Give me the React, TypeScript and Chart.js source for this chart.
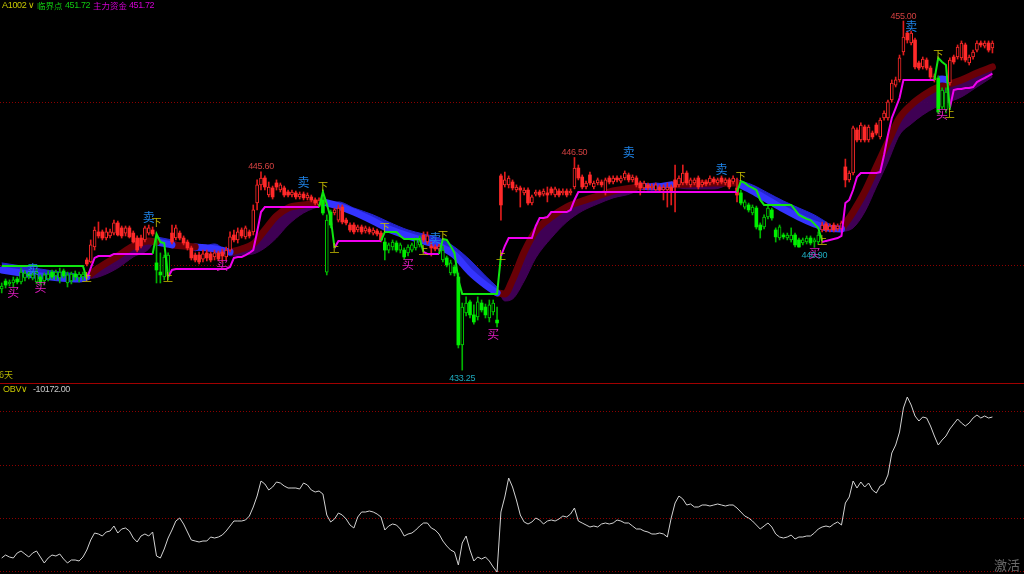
import React, { useEffect, useRef } from 'react';
import { Chart, registerables } from 'chart.js';

Chart.register(...registerables);

// ---------- candles (257 bars) ----------
const opens = [
  438.31, 438.80, 438.62, 438.68, 438.93, 438.74, 438.99, 439.24, 438.99, 438.74,
  439.05, 438.80, 438.93, 439.36, 439.12, 438.99, 439.43, 438.68, 438.80, 439.24,
  438.99, 439.05, 440.11, 439.99, 440.92, 441.86, 441.86, 441.48, 441.61, 441.79,
  442.42, 442.11, 441.79, 442.11, 441.79, 441.48, 441.48, 441.36, 441.79, 441.98,
  439.93, 439.36, 439.05, 439.12, 441.79, 441.48, 441.79, 441.48, 441.23, 440.86,
  440.42, 440.42, 440.17, 440.55, 440.49, 440.30, 440.55, 440.61, 440.30, 440.73,
  441.67, 441.36, 441.98, 441.55, 441.86, 441.86, 443.66, 444.79, 445.22, 444.16,
  444.60, 444.91, 444.47, 444.60, 444.35, 444.16, 444.29, 444.04, 444.22, 443.98,
  444.04, 443.85, 443.54, 443.85, 439.36, 443.10, 443.04, 442.60, 443.41, 442.60,
  442.29, 442.29, 441.98, 442.17, 441.92, 442.04, 441.79, 441.92, 441.79, 441.23,
  440.73, 440.92, 441.17, 440.73, 440.73, 440.55, 440.73, 440.86, 441.05, 441.67,
  441.23, 440.98, 440.92, 440.80, 440.11, 440.24, 439.30, 439.68, 439.05, 434.82,
  436.81, 437.50, 436.69, 436.56, 437.43, 437.18, 436.50, 436.87, 436.37, 445.35,
  444.79, 444.79, 444.97, 444.47, 444.60, 444.29, 444.47, 443.66, 444.22, 444.35,
  444.22, 444.29, 444.54, 444.16, 444.41, 444.29, 444.41, 444.29, 444.66, 445.84,
  445.28, 444.66, 445.41, 444.66, 444.91, 444.97, 444.29, 445.22, 444.97, 445.22,
  445.03, 445.22, 445.41, 445.10, 445.22, 444.91, 444.60, 444.79, 444.60, 444.47,
  444.66, 444.47, 444.47, 444.66, 445.10, 444.79, 444.91, 445.53, 444.79, 444.91,
  445.22, 444.79, 444.97, 444.91, 445.16, 444.91, 445.22, 444.91, 445.10, 444.97,
  444.60, 444.29, 443.41, 443.54, 443.04, 443.35, 442.29, 442.17, 442.79, 443.23,
  441.98, 441.48, 441.67, 441.48, 441.36, 441.67, 441.36, 441.17, 441.23, 441.48,
  441.23, 441.23, 441.98, 442.36, 441.98, 442.29, 442.04, 442.04, 445.91, 445.10,
  445.53, 448.21, 447.59, 448.40, 447.59, 448.02, 448.52, 447.78, 448.96, 448.96,
  450.08, 451.01, 451.33, 453.07, 454.25, 453.63, 453.82, 452.39, 452.14, 452.57,
  452.07, 451.33, 451.45, 449.64, 449.46, 451.14, 452.76, 452.76, 452.70, 453.51,
  452.39, 452.76, 453.19, 453.63, 453.44, 453.63, 453.32,
];
const highs = [
  438.68, 438.93, 438.87, 439.05, 439.05, 439.61, 439.43, 439.36, 439.36, 439.55,
  439.18, 439.30, 439.43, 439.49, 439.49, 439.61, 439.55, 439.36, 439.36, 439.43,
  439.36, 439.36, 440.24, 441.36, 442.17, 442.48, 441.98, 442.11, 442.04, 442.60,
  442.54, 442.23, 442.23, 442.23, 441.92, 441.61, 441.67, 442.23, 442.29, 442.17,
  441.55, 440.55, 440.42, 440.55, 442.29, 442.29, 441.92, 441.61, 441.36, 440.98,
  440.55, 440.61, 440.73, 440.73, 440.61, 440.73, 440.67, 440.80, 440.92, 441.86,
  441.98, 442.11, 442.11, 442.23, 441.98, 443.54, 445.10, 445.60, 445.35, 444.97,
  444.72, 445.10, 444.91, 444.72, 444.47, 444.47, 444.41, 444.35, 444.35, 444.29,
  444.16, 443.98, 443.98, 444.47, 442.92, 443.23, 443.35, 443.54, 443.54, 442.73,
  442.42, 442.42, 442.29, 442.29, 442.23, 442.17, 442.11, 442.04, 441.92, 441.48,
  441.17, 441.36, 441.30, 441.17, 440.86, 441.05, 441.17, 441.48, 441.61, 441.86,
  441.86, 441.23, 441.05, 441.11, 440.98, 440.36, 440.11, 439.80, 439.30, 437.43,
  437.81, 437.62, 437.31, 437.81, 437.62, 437.37, 437.62, 437.62, 437.18, 445.47,
  445.59, 445.35, 445.10, 444.79, 444.72, 444.60, 444.60, 444.16, 444.47, 444.47,
  444.54, 444.66, 444.66, 444.66, 444.54, 444.54, 444.54, 444.54, 446.50, 446.03,
  445.41, 445.03, 445.59, 445.03, 445.22, 445.10, 445.22, 445.35, 445.35, 445.35,
  445.35, 445.66, 445.53, 445.41, 445.35, 445.03, 445.03, 444.91, 444.85, 444.91,
  444.79, 444.79, 444.91, 444.79, 446.03, 445.35, 446.03, 445.66, 445.22, 445.22,
  445.35, 445.10, 445.10, 445.35, 445.28, 445.22, 445.35, 445.22, 445.22, 445.35,
  445.22, 444.47, 443.85, 443.66, 443.54, 443.47, 442.42, 442.92, 443.47, 443.35,
  442.11, 442.29, 441.79, 441.79, 442.11, 441.79, 441.48, 441.48, 441.61, 441.61,
  441.48, 441.86, 442.48, 442.48, 442.36, 442.42, 442.36, 442.54, 446.40, 445.66,
  448.46, 448.34, 448.65, 448.52, 448.52, 448.15, 448.65, 448.96, 449.40, 450.08,
  451.33, 451.51, 452.88, 455.00, 454.38, 454.38, 453.94, 452.51, 452.76, 452.70,
  452.20, 451.70, 451.58, 450.83, 450.83, 452.70, 452.88, 453.51, 453.76, 453.63,
  452.88, 453.19, 453.76, 453.76, 453.76, 453.76, 453.76,
];
const lows = [
  438.06, 438.37, 438.49, 438.43, 438.62, 438.62, 438.80, 438.93, 438.87, 438.62,
  438.55, 438.55, 438.80, 438.93, 438.87, 438.68, 438.99, 438.43, 438.62, 438.87,
  438.74, 438.87, 439.74, 439.93, 440.73, 441.48, 441.36, 441.36, 441.48, 441.67,
  441.61, 441.48, 441.61, 441.48, 441.17, 440.61, 440.86, 441.23, 441.67, 441.61,
  438.68, 438.68, 438.87, 438.87, 441.11, 441.36, 441.36, 441.05, 440.73, 440.11,
  439.99, 439.86, 439.99, 440.05, 439.99, 440.11, 440.05, 439.99, 440.11, 440.61,
  441.23, 441.17, 441.48, 441.42, 441.48, 441.67, 443.23, 444.47, 444.47, 444.04,
  443.91, 444.47, 444.35, 444.04, 444.04, 444.04, 443.91, 443.91, 443.85, 443.85,
  443.73, 443.54, 443.41, 442.92, 439.18, 442.11, 442.92, 442.48, 442.36, 442.29,
  441.86, 441.73, 441.86, 441.73, 441.79, 441.73, 441.67, 441.61, 441.23, 440.11,
  440.55, 440.73, 440.61, 440.55, 440.17, 440.36, 440.61, 440.73, 440.92, 441.23,
  441.11, 440.36, 440.67, 440.67, 439.99, 439.68, 439.18, 439.12, 434.63, 433.25,
  436.62, 436.50, 436.12, 436.37, 436.87, 436.50, 436.25, 436.69, 435.94, 442.60,
  444.66, 444.60, 444.47, 444.35, 443.41, 444.16, 443.54, 443.54, 444.10, 444.04,
  444.10, 443.73, 444.16, 444.04, 444.04, 444.16, 444.04, 444.16, 444.54, 445.10,
  444.54, 444.54, 444.79, 444.54, 444.79, 444.66, 444.16, 444.85, 444.85, 444.97,
  444.91, 445.10, 444.97, 444.97, 444.66, 444.16, 444.47, 444.47, 444.47, 444.35,
  444.35, 443.85, 443.41, 443.54, 443.10, 444.66, 444.79, 444.79, 444.66, 444.79,
  444.54, 444.66, 444.72, 444.79, 444.85, 444.79, 444.85, 444.79, 444.54, 444.85,
  443.73, 443.54, 443.29, 443.10, 442.92, 442.04, 441.48, 442.04, 442.67, 442.60,
  441.23, 441.36, 441.42, 441.36, 441.23, 440.92, 440.91, 441.05, 441.11, 441.05,
  440.90, 441.11, 441.86, 441.86, 441.86, 441.86, 441.92, 441.92, 444.66, 444.97,
  445.41, 447.46, 447.46, 447.46, 447.46, 447.65, 447.90, 447.65, 448.83, 448.83,
  449.96, 450.89, 451.20, 452.88, 453.63, 453.51, 452.01, 451.95, 452.01, 451.95,
  451.39, 451.20, 449.21, 449.52, 449.27, 451.01, 452.32, 452.63, 452.57, 452.45,
  452.26, 452.63, 453.07, 453.38, 453.32, 453.07, 453.01,
];
const closes = [
  438.49, 438.55, 438.74, 438.87, 438.74, 439.36, 439.30, 439.12, 439.18, 439.36,
  438.68, 439.18, 439.24, 439.05, 439.36, 439.36, 439.12, 439.18, 439.24, 439.05,
  439.24, 439.24, 439.86, 441.05, 441.98, 441.61, 441.48, 441.86, 441.86, 442.42,
  441.67, 441.61, 442.11, 441.55, 441.23, 440.73, 440.98, 442.11, 442.11, 441.73,
  439.49, 439.18, 440.30, 440.42, 441.23, 442.11, 441.48, 441.17, 440.86, 440.24,
  440.11, 439.99, 440.49, 440.24, 440.11, 440.55, 440.17, 440.36, 440.73, 441.55,
  441.36, 441.86, 441.61, 442.11, 441.61, 443.23, 444.79, 445.22, 444.66, 444.66,
  444.04, 444.66, 444.79, 444.16, 444.16, 444.35, 444.04, 444.22, 443.98, 444.16,
  443.85, 443.66, 443.85, 443.04, 442.60, 442.29, 443.23, 443.35, 442.48, 442.42,
  441.98, 441.86, 442.17, 441.86, 442.11, 441.86, 441.98, 441.73, 441.36, 440.73,
  441.05, 441.23, 440.73, 441.05, 440.30, 440.92, 441.05, 441.36, 441.48, 441.36,
  441.61, 440.86, 440.80, 440.98, 440.73, 439.80, 439.93, 439.30, 434.82, 437.18,
  437.43, 436.69, 436.25, 437.50, 437.00, 436.69, 437.31, 437.43, 436.19, 443.54,
  445.10, 445.22, 444.60, 444.66, 444.47, 444.47, 443.66, 444.04, 444.35, 444.16,
  444.41, 444.16, 444.29, 444.54, 444.16, 444.41, 444.16, 444.41, 445.84, 445.22,
  444.66, 444.91, 444.91, 444.91, 445.10, 444.79, 445.10, 444.97, 445.22, 445.10,
  445.22, 445.53, 445.10, 445.28, 444.79, 444.60, 444.91, 444.60, 444.72, 444.79,
  444.47, 444.66, 444.66, 444.35, 444.66, 445.22, 445.53, 444.91, 445.10, 445.10,
  444.66, 444.97, 444.85, 445.22, 444.97, 445.10, 444.97, 445.10, 444.66, 445.22,
  444.16, 443.66, 443.73, 443.23, 443.41, 442.17, 441.98, 442.79, 443.35, 442.73,
  441.55, 442.17, 441.55, 441.67, 441.67, 441.05, 440.92, 441.36, 441.48, 441.17,
  441.36, 441.67, 442.29, 441.98, 442.23, 441.98, 442.23, 442.42, 445.10, 445.53,
  448.34, 447.59, 448.52, 447.59, 448.40, 447.78, 448.02, 448.83, 449.27, 449.96,
  451.14, 451.33, 452.70, 454.00, 453.82, 454.25, 452.14, 452.07, 452.63, 452.07,
  451.51, 451.58, 449.33, 450.70, 450.58, 452.57, 452.45, 453.38, 453.63, 452.57,
  452.76, 453.07, 453.63, 453.51, 453.63, 453.19, 453.63,
];

// bar index where each trend state (r = red / g = green candles) begins
const trendStarts = [0, 22, 40, 44, 83, 86, 99, 109, 114, 129, 191, 212, 242, 245];
const trendStates = ['g', 'r', 'g', 'r', 'g', 'r', 'g', 'r', 'g', 'r', 'g', 'r', 'g', 'r'];

// ---------- 主力资金 (magenta) segments ----------
const mainForceStarts = [22, 43, 86, 109, 129, 212, 245];
const mainForceValues = [
  [438.93, 439.61, 440.24, 440.36, 440.36, 440.36, 440.36, 440.49, 440.49, 440.49,
   440.49, 440.49, 440.49, 440.49, 440.49, 440.49, 440.49, 440.49],
  [439.05, 439.49, 439.55, 439.55, 439.55, 439.55, 439.55, 439.55, 439.55, 439.55,
   439.55, 439.55, 439.55, 439.55, 439.55, 439.55, 439.68, 440.24, 440.30, 440.30,
   440.42, 440.55, 440.73, 441.86, 443.10, 443.41, 443.41, 443.41, 443.41, 443.41,
   443.41, 443.41, 443.41, 443.41, 443.41, 443.41, 443.41, 443.41, 443.41, 443.41],
  [440.86, 441.30, 441.30, 441.30, 441.30, 441.30, 441.30, 441.30, 441.30, 441.30,
   441.30, 441.30, 441.30],
  [440.61, 440.49, 440.49, 440.49, 440.49],
  [440.36, 440.98, 441.48, 441.48, 441.48, 441.48, 441.48, 441.48, 441.48, 442.23,
   442.73, 442.73, 442.79, 443.10, 443.10, 443.10, 443.10, 443.10, 443.23, 443.85,
   444.35, 444.35, 444.35, 444.35, 444.35, 444.35, 444.35, 444.35, 444.35, 444.35,
   444.35, 444.35, 444.35, 444.35, 444.35, 444.35, 444.35, 444.35, 444.35, 444.35,
   444.35, 444.35, 444.35, 444.35, 444.35, 444.35, 444.35, 444.35, 444.35, 444.35,
   444.35, 444.35, 444.35, 444.35, 444.35, 444.35, 444.35, 444.35, 444.35, 444.35,
   444.35, 444.35],
  [441.23, 441.30, 441.36, 441.42, 441.48, 441.61, 443.66, 443.85, 444.47, 445.28,
   445.53, 445.53, 445.53, 445.53, 445.53, 445.59, 446.65, 447.90, 448.96, 449.58,
   450.20, 451.33, 451.33, 451.33, 451.33, 451.33, 451.33, 451.33, 451.33, 451.33],
  [449.58, 450.70, 450.77, 450.77, 450.83, 450.83, 450.89, 451.20, 451.33, 451.45,
   451.58, 451.72],
];

// ---------- 临界点 (green) segments ----------
const criticalStarts = [0, 39, 82, 98, 113, 190, 241];
const criticalValues = [
  [439.74, 439.74, 439.74, 439.74, 439.74, 439.74, 439.74, 439.74, 439.74, 439.74,
   439.74, 439.74, 439.74, 439.74, 439.74, 439.74, 439.74, 439.74, 439.74, 439.74,
   439.74, 439.74, 438.93],
  [440.49, 441.73, 441.23, 441.17, 439.05],
  [443.41, 444.35, 443.60, 442.73, 440.86],
  [441.30, 441.86, 441.86, 441.86, 441.86, 441.61, 441.42, 441.42, 441.42, 441.42,
   441.42, 440.61],
  [440.49, 441.42, 441.36, 440.98, 440.55, 438.87, 438.00, 438.00, 438.00, 438.00,
   438.00, 438.00, 438.00, 438.00, 438.00, 438.00, 440.36],
  [444.35, 445.03, 444.91, 444.72, 444.60, 444.47, 443.85, 443.54, 443.54, 443.54,
   443.54, 443.54, 443.54, 443.54, 443.54, 443.23, 442.92, 442.79, 442.67, 442.60,
   442.36, 442.11, 441.30],
  [451.33, 452.70, 452.45, 452.26, 449.46],
];

// ---------- trend ribbon (fast / slow averages) ----------
const ribbonIdx = [0, 5, 10, 15, 20, 22, 25, 30, 34, 38, 40, 44, 50, 55, 59, 62, 65, 68, 71, 74, 78,
  83, 87, 91, 96, 100, 105, 109, 113, 117, 121, 125, 128, 130, 132, 135, 138, 142, 146, 150, 154,
  158, 163, 165, 169, 173, 178, 184, 190, 194, 198, 202, 206, 210, 213, 217, 220, 223, 226, 229,
  232, 235, 238, 241, 244, 248, 252, 256];
const ribbonFast = [439.49, 439.30, 439.12, 438.99, 438.93, 439.05, 439.61, 440.36, 440.98, 441.30,
  441.23, 441.05, 440.92, 440.80, 440.61, 440.80, 441.11, 441.98, 442.85, 443.35, 443.54,
  443.73, 443.47, 443.10, 442.54, 442.04, 441.61, 441.30, 440.98, 440.42, 439.36, 438.55,
  438.06, 438.00, 438.87, 440.61, 441.92, 442.79, 443.41, 443.79, 444.10, 444.41, 444.60,
  444.72, 444.66, 444.79, 444.85, 444.91, 444.91, 444.41, 443.85, 443.29, 442.79, 442.36, 442.11,
  442.04, 443.10, 444.35, 445.91, 447.46, 448.96, 449.77, 450.33, 450.77, 451.01, 451.33, 451.76, 452.14];
const ribbonSlow = [439.93, 439.74, 439.55, 439.36, 439.18, 438.93, 439.05, 439.61, 440.30, 440.80,
  441.55, 441.36, 440.67, 441.11, 440.36, 440.42, 440.49, 440.86, 441.48, 442.29, 443.04,
  443.54, 443.73, 443.35, 442.92, 442.48, 441.98, 441.73, 441.48, 440.92, 440.11, 439.12,
  438.43, 437.56, 437.68, 438.80, 440.24, 441.48, 442.48, 443.16, 443.60, 443.98, 444.29,
  444.60, 444.91, 444.66, 444.54, 444.54, 445.10, 444.79, 444.29, 443.79, 443.35, 442.92, 442.48,
  441.86, 442.11, 443.10, 444.66, 446.22, 447.90, 448.59, 449.15, 449.58, 449.89, 450.27, 450.89, 451.51];
// trend of the interval that starts at each ribbon sample (b = falling / r = rising)
const ribbonTrend = 'bbbbbrrrrrbrbbrrrrrrrbbbbbbbbbbbrrrrrrrrrrrbbrrrbbbbbbbrrrrrrrrrrrrr';
const blobIdx = [242, 243, 244, 245];
const blobVal = [451.36, 451.39, 451.36, 451.30];

// ---------- signal markers ----------
const buyIdx = [3, 10, 57, 105, 127, 210, 243];
const buyPrice = [438.12, 438.43, 439.80, 439.86, 435.50, 440.49, 449.15];
const sellIdx = [8, 38, 78, 112, 162, 186, 235];
const sellPrice = [439.55, 442.79, 444.97, 441.48, 446.84, 445.78, 454.69];
const upIdx = [22, 43, 86, 109, 129, 212, 245];
const upPrice = [439.05, 439.05, 440.86, 440.73, 440.42, 441.36, 449.27];
const downIdx = [40, 83, 99, 114, 191, 242];
const downPrice = [442.48, 444.72, 442.17, 441.67, 445.35, 452.95];

// labelled extremes
const extremeIdx = [67, 148, 233, 119, 210];
const extremePrice = [445.60, 446.50, 455.00, 433.25, 440.90];
const extremeIsHigh = [true, true, true, false, false];

const priceGrid = [449.97, 439.83];

// ---------- OBV ----------
const obv = [
  -38372, -37772, -38172, -38372, -37372, -36972, -37572, -38172, -37372, -36972,
  -38172, -39372, -38372, -37772, -37972, -37572, -38572, -39372, -38772, -38772,
  -38972, -38172, -36772, -34772, -33372, -33572, -33972, -33172, -32972, -31972,
  -33372, -32572, -32372, -32972, -34372, -35172, -33972, -33572, -33972, -33172,
  -37972, -38372, -36572, -34372, -32772, -30972, -30372, -31572, -33172, -34772,
  -34972, -35172, -34972, -34972, -34172, -34372, -34172, -33772, -32972, -31972,
  -30972, -30972, -30972, -30772, -29972, -28172, -25972, -22972, -23572, -24772,
  -24172, -23172, -23372, -23972, -24372, -24372, -24372, -24572, -23372, -23772,
  -24772, -25172, -24972, -25572, -29772, -31172, -30572, -29372, -29772, -30572,
  -31772, -32372, -30172, -29172, -29172, -28972, -29172, -29572, -30172, -32772,
  -31972, -31572, -31772, -32572, -33972, -33572, -33372, -32772, -31972, -31372,
  -31372, -32372, -32772, -33572, -34972, -35972, -36772, -37172, -39772, -35372,
  -33972, -36772, -38972, -38172, -38572, -38172, -38972, -40172, -41172, -29172,
  -26172, -22372, -24172, -26772, -29772, -31172, -31572, -31172, -30372, -30772,
  -31572, -30972, -30772, -30972, -30572, -29972, -30172, -29572, -28372, -30972,
  -31372, -31772, -32172, -31972, -32172, -31572, -31372, -31572, -31372, -30772,
  -30972, -31372, -31372, -31972, -32572, -32572, -32972, -33172, -33572, -33572,
  -33372, -33572, -34172, -30372, -27372, -25972, -26572, -27772, -27572, -28172,
  -28172, -27772, -27772, -27972, -27772, -27572, -27772, -27972, -27772, -27772,
  -28372, -29172, -29972, -30372, -30972, -31772, -32572, -31972, -31372, -32172,
  -33572, -34172, -34372, -34172, -33772, -34572, -34172, -34172, -33972, -33972,
  -33372, -32572, -32172, -31972, -32172, -31572, -31172, -31772, -27372, -26172,
  -22972, -24372, -23172, -24172, -23372, -24772, -25372, -23972, -23572, -21772,
  -17372, -15772, -13172, -8372, -6172, -7772, -9972, -10972, -10172, -10372,
  -11972, -13972, -15772, -14772, -13972, -12572, -11572, -10572, -11372, -11972,
  -11372, -10372, -9772, -10372, -9972, -10372, -10172,
];
const obvGrid = [-9032, -19712, -30372, -41032];

// ---------- axes ----------
const X_MIN = -0.44;
const X_MAX = 264.16;
const PRICE_MIN = 432.385;
const PRICE_MAX = 456.31;
const OBV_MIN = -41572;
const OBV_MAX = -3572;

const NUM_FONT = '"Liberation Sans", "DejaVu Sans", sans-serif';
const CJK_FONT = '"Noto Sans CJK SC", "Noto Sans", sans-serif';

function stateAt(i: number) {
  let s = 'g';
  for (let k = 0; k < trendStarts.length; k++) if (i >= trendStarts[k]) s = trendStates[k];
  return s;
}

function dottedGrid(values: number[]) {
  return {
    id: 'dottedGrid',
    beforeDatasetsDraw(chart: any) {
      const { ctx, chartArea, scales } = chart;
      ctx.save();
      ctx.strokeStyle = '#8c0000';
      ctx.lineWidth = 1;
      ctx.setLineDash([1, 2]);
      values.forEach((v) => {
        const y = Math.round(scales.y.getPixelForValue(v)) + 0.5;
        ctx.beginPath();
        ctx.moveTo(chartArea.left, y);
        ctx.lineTo(chartArea.right, y);
        ctx.stroke();
      });
      ctx.restore();
    },
  };
}

const markerPlugin = {
  id: 'markers',
  afterDatasetsDraw(chart: any) {
    const { ctx, scales } = chart;
    const xs = scales.x;
    const ys = scales.y;
    ctx.save();
    ctx.textAlign = 'center';
    ctx.textBaseline = 'middle';
    const draw = (idx: number[], price: number[], text: string, color: string, font: string) => {
      ctx.fillStyle = color;
      ctx.font = font;
      idx.forEach((i, k) => ctx.fillText(text, xs.getPixelForValue(i), ys.getPixelForValue(price[k])));
    };
    draw(buyIdx, buyPrice, '买', '#e01cc0', `12px ${CJK_FONT}`);
    draw(sellIdx, sellPrice, '卖', '#1e82e6', `12px ${CJK_FONT}`);
    draw(upIdx, upPrice, '上', '#c8be00', `10px ${CJK_FONT}`);
    draw(downIdx, downPrice, '下', '#c8be00', `10px ${CJK_FONT}`);
    ctx.font = `9px ${NUM_FONT}`;
    try { (ctx as any).letterSpacing = '-0.3px'; } catch (e) { /* ignore */ }
    extremeIdx.forEach((i, k) => {
      const x = xs.getPixelForValue(i);
      const y = ys.getPixelForValue(extremePrice[k]);
      ctx.fillStyle = extremeIsHigh[k] ? '#d04040' : '#1eaabe';
      ctx.fillText(extremePrice[k].toFixed(2), x, extremeIsHigh[k] ? y - 5 : y + 8.5);
    });
    ctx.restore();
  },
};

export default function App() {
  const topRef = useRef<HTMLCanvasElement>(null);
  const botRef = useRef<HTMLCanvasElement>(null);

  useEffect(() => {
    const idx = opens.map((_, i) => i);
    const states = idx.map(stateAt);
    const up = idx.map((i) => closes[i] >= opens[i]);
    const bodyCol = idx.map((i) => (states[i] === 'r' ? '#ff2a2a' : up[i] ? '#00d200' : '#00f000'));
    const wickCol = idx.map((i) => (states[i] === 'r' ? '#e01c1c' : '#00b400'));

    const datasets: any[] = [];
    const lineBase = { type: 'line', pointRadius: 0, tension: 0, fill: false, borderWidth: 2 };

    criticalStarts.forEach((s, k) => {
      datasets.push({ ...lineBase, data: criticalValues[k].map((v, j) => ({ x: s + j, y: v })), borderColor: '#10e610' });
    });
    mainForceStarts.forEach((s, k) => {
      datasets.push({ ...lineBase, data: mainForceValues[k].map((v, j) => ({ x: s + j, y: v })), borderColor: '#f000f0' });
    });

    datasets.push({
      type: 'bar',
      data: idx.map((i) => ({ x: i, y: [opens[i], closes[i]] })),
      backgroundColor: idx.map((i) => (up[i] ? '#000000' : bodyCol[i])),
      borderColor: bodyCol,
      borderWidth: idx.map((i) => (up[i] ? 1 : 0)),
      borderSkipped: false,
      grouped: false,
      barPercentage: 1,
      categoryPercentage: 1,
      maxBarThickness: 3,
      minBarLength: 1,
    });
    datasets.push({
      type: 'bar',
      data: idx.map((i) => ({ x: i, y: [lows[i], highs[i]] })),
      backgroundColor: wickCol,
      borderWidth: 0,
      grouped: false,
      barPercentage: 1,
      categoryPercentage: 1,
      maxBarThickness: 1,
    });

    datasets.push({
      ...lineBase,
      data: blobIdx.map((i, k) => ({ x: i, y: blobVal[k] })),
      borderColor: '#3a3aff',
      borderWidth: 7,
      tension: 0.4,
    });

    // ribbon runs
    const runs: { color: string; from: number; to: number }[] = [];
    for (let k = 0; k < ribbonIdx.length - 1; k++) {
      const c = ribbonTrend[k];
      if (runs.length && runs[runs.length - 1].color === c) runs[runs.length - 1].to = k + 1;
      else runs.push({ color: c, from: k, to: k + 1 });
    }
    const base = datasets.length;
    runs.forEach((r) => {
      const pts = [];
      for (let k = r.from; k <= r.to; k++) pts.push({ x: ribbonIdx[k], y: ribbonFast[k] });
      datasets.push({
        ...lineBase,
        data: pts,
        borderColor: r.color === 'r' ? '#680006' : '#3434ff',
        borderWidth: 7,
        tension: 0.4,
        cubicInterpolationMode: 'monotone',
        borderCapStyle: 'round',
      });
    });
    runs.forEach((r, n) => {
      const pts = [];
      for (let k = r.from; k <= r.to; k++) pts.push({ x: ribbonIdx[k], y: ribbonSlow[k] });
      const fillCol = r.color === 'r' ? 'rgba(66,0,88,0.95)' : '#2424d0';
      datasets.push({
        ...lineBase,
        data: pts,
        borderColor: fillCol,
        borderWidth: 1,
        backgroundColor: fillCol,
        fill: base + n,
        tension: 0.4,
        cubicInterpolationMode: 'monotone',
      });
    });

    const top = new Chart(topRef.current as HTMLCanvasElement, {
      type: 'bar',
      data: { datasets },
      options: {
        responsive: false,
        animation: false,
        devicePixelRatio: 1,
        events: [],
        layout: { padding: 0 },
        plugins: { legend: { display: false }, tooltip: { enabled: false } },
        scales: {
          x: { type: 'linear', min: X_MIN, max: X_MAX, display: false, offset: false },
          y: { type: 'linear', min: PRICE_MIN, max: PRICE_MAX, display: false },
        },
      } as any,
      plugins: [dottedGrid(priceGrid), markerPlugin],
    } as any);

    const bottom = new Chart(botRef.current as HTMLCanvasElement, {
      type: 'line',
      data: {
        datasets: [
          {
            data: obv.map((v, i) => ({ x: i, y: v })),
            borderColor: '#d2d2d2',
            borderWidth: 1,
            pointRadius: 0,
            tension: 0,
            fill: false,
          },
        ],
      },
      options: {
        responsive: false,
        animation: false,
        devicePixelRatio: 1,
        events: [],
        layout: { padding: 0 },
        plugins: { legend: { display: false }, tooltip: { enabled: false } },
        scales: {
          x: { type: 'linear', min: X_MIN, max: X_MAX, display: false, offset: false },
          y: { type: 'linear', min: OBV_MIN, max: OBV_MAX, display: false },
        },
      } as any,
      plugins: [dottedGrid(obvGrid)],
    } as any);

    return () => {
      top.destroy();
      bottom.destroy();
    };
  }, []);

  const txt = (left: number, top: number, color: string, size: number, font: string, spacing = 0): React.CSSProperties => ({
    position: 'absolute',
    left,
    top,
    color,
    fontSize: size,
    fontFamily: font,
    lineHeight: '11px',
    letterSpacing: spacing,
    whiteSpace: 'nowrap',
  });

  return (
    <div style={{ position: 'fixed', left: 0, top: 0, width: 1024, height: 574, background: '#000', overflow: 'hidden' }}>
      <canvas ref={topRef} width={1024} height={384} style={{ position: 'absolute', left: 0, top: 0, width: 1024, height: 384 }} />
      <canvas ref={botRef} width={1024} height={190} style={{ position: 'absolute', left: 0, top: 384, width: 1024, height: 190 }} />
      <div style={{ position: 'absolute', left: 0, top: 383, width: 1024, height: 1, background: '#a00000' }} />

      <span style={txt(2, 0, '#c8c800', 9, NUM_FONT, -0.3)}>A1002</span>
      <span style={txt(28, 0, '#c8c800', 9, NUM_FONT)}>∨</span>
      <span style={txt(37, 0, '#10c810', 8.5, CJK_FONT)}>临界点</span>
      <span style={txt(65, 0, '#10c810', 9, NUM_FONT, -0.4)}>451.72</span>
      <span style={txt(93, 0, '#d200d2', 8.5, CJK_FONT)}>主力资金</span>
      <span style={txt(129, 0, '#d200d2', 9, NUM_FONT, -0.4)}>451.72</span>

      <span style={txt(-1, 369, '#b4b400', 9, CJK_FONT)}>6天</span>

      <span style={txt(3, 384, '#c8c800', 9, NUM_FONT, -0.3)}>OBV</span>
      <span style={txt(21, 384, '#c8c800', 9, NUM_FONT)}>∨</span>
      <span style={txt(33, 384, '#c8c8c8', 9, NUM_FONT, -0.4)}>-10172.00</span>

      <span style={{ ...txt(994, 557, '#6a6a6a', 13, CJK_FONT), lineHeight: '15px' }}>激活</span>
    </div>
  );
}
